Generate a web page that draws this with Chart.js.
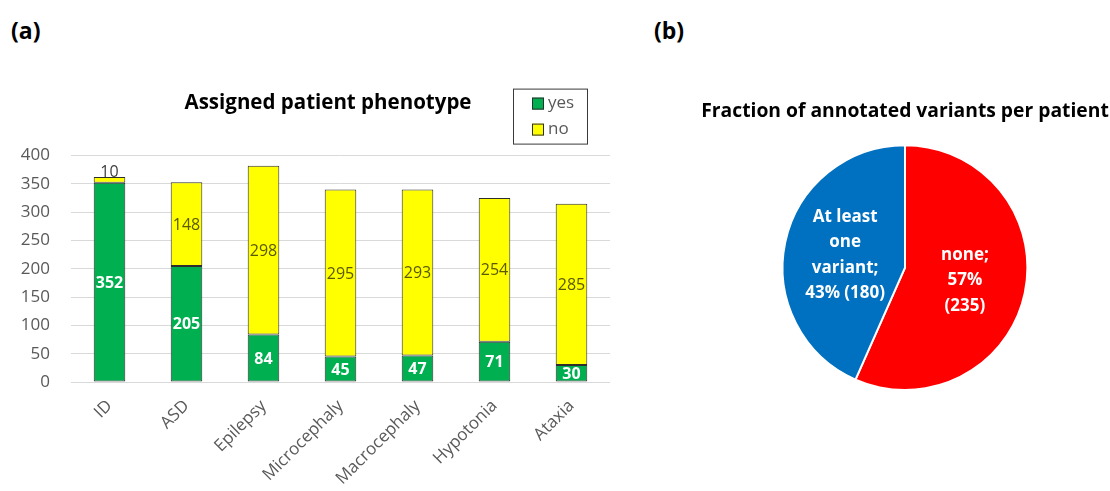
<!DOCTYPE html>
<html><head><meta charset="utf-8">
<script src="https://cdn.jsdelivr.net/npm/chart.js@4.4.1/dist/chart.umd.min.js"></script>
<style>
html,body{margin:0;padding:0;background:#fff;width:1110px;height:491px;overflow:hidden;font-family:'Open Sans',sans-serif}
.panel{position:absolute;font-weight:700;font-size:23px;color:#000;line-height:30px}
#wa{position:absolute;left:0;top:0;width:656px;height:491px}
#wb{position:absolute;left:640px;top:0;width:470px;height:491px}
</style></head><body>
<div class="panel" style="left:11px;top:15px">(a)</div>
<div class="panel" style="left:654px;top:15px">(b)</div>
<div id="wa"><canvas id="ca"></canvas></div>
<div id="wb"><canvas id="cb"></canvas></div>
<script>
// ---- data ----
const phenotypes = ['ID', 'ASD', 'Epilepsy', 'Microcephaly', 'Macrocephaly', 'Hypotonia', 'Ataxia'];
const yesCounts = [352, 205, 84, 45, 47, 71, 30];
const noCounts = [10, 148, 298, 295, 293, 254, 285];
const seriesNames = ['yes', 'no'];
const yTicks = [0, 50, 100, 150, 200, 250, 300, 350, 400];
const barTitle = 'Assigned patient phenotype';

const pieNames = ['none', 'At least one variant'];
const pieCounts = [235, 180];
const piePercents = [57, 43];
const pieTitle = 'Fraction of annotated variants per patient';

// ---- styling ----
const FONT = "'Open Sans', sans-serif";
const GREEN = '#00B050', YELLOW = '#FFFF00', EDGE = '#2e2e2e', GREY = '#595959';

const barLabels = {
  id: 'barLabels',
  afterDatasetsDraw(chart) {
    const ctx = chart.ctx;
    ctx.save();
    ctx.textAlign = 'center';
    chart.data.datasets.forEach((ds, di) => {
      const meta = chart.getDatasetMeta(di);
      meta.data.forEach((el, i) => {
        const p = el.getProps(['x', 'y', 'base'], true);
        const v = ds.data[i];
        const hgt = Math.abs(p.base - p.y);
        if (hgt < 16) {
          ctx.font = '16px ' + FONT;
          ctx.fillStyle = '#404040';
          ctx.textBaseline = 'bottom';
          ctx.fillText(String(v), p.x, p.y + 3);
        } else {
          ctx.font = (ds.lblBold ? 'bold ' : '') + '16px ' + FONT;
          ctx.fillStyle = ds.lblColor;
          ctx.textBaseline = 'middle';
          ctx.fillText(String(v), p.x, (p.y + p.base) / 2 + 1);
        }
      });
    });
    ctx.restore();
  }
};

const boxedLegend = {
  id: 'boxedLegend',
  afterDraw(chart) {
    const ctx = chart.ctx, ca = chart.chartArea;
    const bx = ca.right - 97, by = ca.top - 67, bw = 74, bh = 55;
    ctx.save();
    ctx.strokeStyle = '#3a3a3a';
    ctx.lineWidth = 1;
    ctx.strokeRect(bx + 0.5, by + 0.5, bw, bh);
    ctx.font = '17px ' + FONT;
    ctx.textBaseline = 'middle';
    ctx.textAlign = 'left';
    chart.data.datasets.forEach((ds, i) => {
      const cy = by + 15 + i * 26;
      ctx.fillStyle = ds.backgroundColor;
      ctx.fillRect(bx + 19, cy - 6, 12, 12);
      ctx.strokeStyle = EDGE;
      ctx.strokeRect(bx + 19.5, cy - 5.5, 11, 11);
      ctx.fillStyle = GREY;
      ctx.fillText(ds.label, bx + 35, cy);
    });
    ctx.restore();
  }
};

new Chart(document.getElementById('ca'), {
  type: 'bar',
  data: {
    labels: phenotypes,
    datasets: [
      { label: seriesNames[0], data: yesCounts, backgroundColor: GREEN, borderColor: EDGE, borderWidth: 1,
        borderSkipped: false, categoryPercentage: 1, barPercentage: 0.41, lblColor: '#ffffff', lblBold: true },
      { label: seriesNames[1], data: noCounts, backgroundColor: YELLOW, borderColor: EDGE, borderWidth: 1,
        borderSkipped: false, categoryPercentage: 1, barPercentage: 0.41, lblColor: '#5c5a00', lblBold: false }
    ]
  },
  options: {
    responsive: true, maintainAspectRatio: false, animation: false,
    layout: { padding: { left: 0, right: 0, top: 0, bottom: 0 } },
    scales: {
      x: {
        stacked: true,
        grid: { display: false }, border: { display: false },
        ticks: { color: GREY, font: { family: FONT, size: 17 }, minRotation: 45, maxRotation: 45, autoSkip: false, padding: 6 },
        afterFit(s) { s.height = 109; }
      },
      y: {
        stacked: true, min: 0, max: 400,
        afterBuildTicks(s) { s.ticks = yTicks.map(v => ({ value: v })); },
        grid: { color: '#D9D9D9', drawTicks: false, lineWidth: 1 }, border: { display: false },
        ticks: { color: GREY, font: { family: FONT, size: 17 }, padding: 21 },
        afterFit(s) { s.width = 71; }
      },
      spacer: {
        position: 'right', display: true,
        grid: { display: false }, border: { display: false }, ticks: { display: false },
        afterFit(s) { s.width = 46; }
      }
    },
    plugins: {
      legend: { display: false },
      tooltip: { enabled: false },
      title: { display: true, text: barTitle, color: '#000', font: { family: FONT, size: 20.5, weight: 'bold' },
               padding: { top: 91, bottom: 40 } }
    }
  },
  plugins: [barLabels, boxedLegend]
});

const pieText = {
  id: 'pieText',
  afterDatasetsDraw(chart) {
    const ctx = chart.ctx;
    const meta = chart.getDatasetMeta(0);
    ctx.save();
    ctx.font = 'bold 17px ' + FONT;
    ctx.fillStyle = '#ffffff';
    ctx.textAlign = 'center';
    ctx.textBaseline = 'middle';
    const wrapW = [60, 90];
    meta.data.forEach((arc, i) => {
      const words = (pieNames[i] + '; ' + piePercents[i] + '% (' + pieCounts[i] + ')').split(' ');
      const lines = [];
      let cur = '';
      words.forEach(w => {
        const t = cur ? cur + ' ' + w : w;
        if (cur && ctx.measureText(t).width > wrapW[i]) { lines.push(cur); cur = w; } else cur = t;
      });
      if (cur) lines.push(cur);
      const pos = arc.tooltipPosition(true);
      const lh = 25.5;
      const y0 = pos.y - (lines.length - 1) * lh / 2;
      lines.forEach((ln, k) => ctx.fillText(ln, pos.x, y0 + k * lh));
    });
    ctx.restore();
  }
};

new Chart(document.getElementById('cb'), {
  type: 'pie',
  data: {
    labels: pieNames,
    datasets: [{ data: pieCounts, backgroundColor: ['#FF0000', '#0070C0'], borderColor: '#ffffff', borderWidth: 2 }]
  },
  options: {
    responsive: true, maintainAspectRatio: false, animation: false,
    layout: { padding: { left: 60, right: 0, top: 0, bottom: 100 } },
    plugins: {
      legend: { display: false },
      tooltip: { enabled: false },
      title: { display: true, text: pieTitle, color: '#000', font: { family: FONT, size: 19.3, weight: 'bold' },
               padding: { top: 100, bottom: 21 } }
    }
  },
  plugins: [pieText]
});
</script>
</body></html>
